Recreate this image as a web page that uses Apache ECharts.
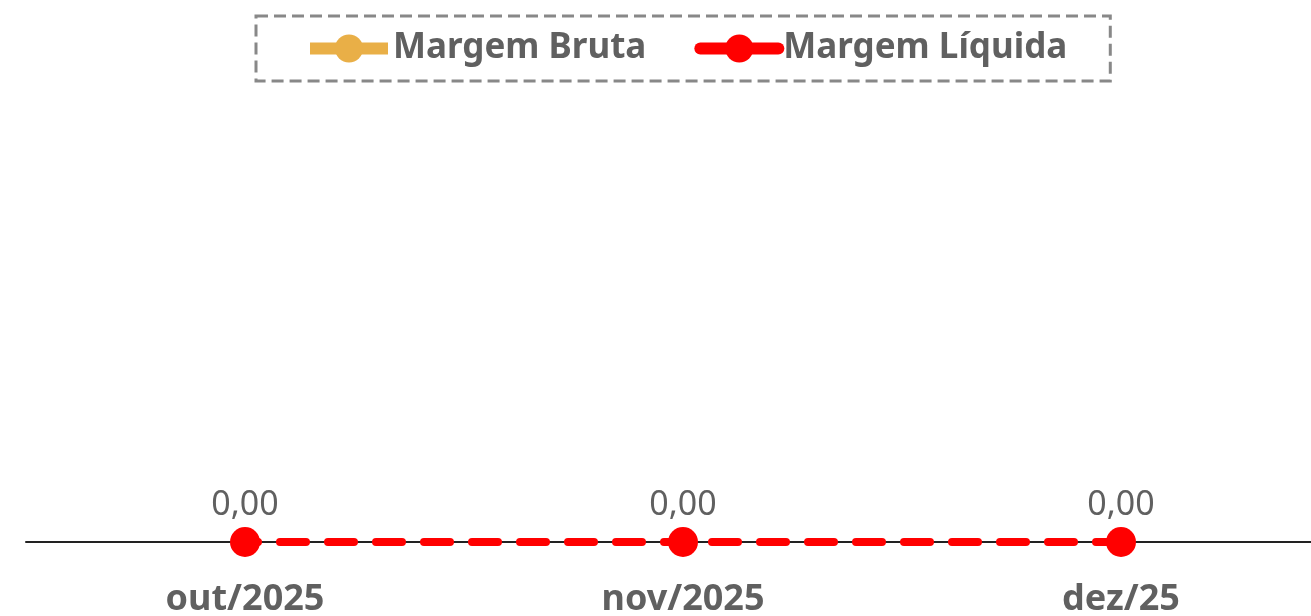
<!DOCTYPE html>
<html>
<head>
<meta charset="utf-8">
<script src="https://cdn.jsdelivr.net/npm/echarts@6/dist/echarts.min.js"></script>
<style>
  html, body { margin: 0; padding: 0; background: #fff; overflow: hidden; }
  #chart { width: 1340px; height: 616px; }
</style>
</head>
<body>
<div id="chart"></div>
<script>
var myChart = echarts.init(document.getElementById('chart'));

// data
var months = ['out/2025', 'nov/2025', 'dez/25'];
var margemBruta = [null, null, null];
var margemLiquida = [0, 0, 0];

var fontFam = '"Noto Sans", "Open Sans", sans-serif';

var option = {
    backgroundColor: '#fff',
    animation: false,
    legend: {
        top: 16,
        left: 256,
        padding: [15, 43, 15, 48],
        borderType: 'dashed',
        borderWidth: 3,
        borderColor: '#888',
        itemWidth: 78,
        itemHeight: 35,
        itemGap: 48,
        lineStyle: { type: 'solid', width: 12 },
        textStyle: { fontFamily: fontFam, fontSize: 35, fontWeight: 'bold', color: '#606060' },
        data: ['Margem Bruta', 'Margem Líquida']
    },
    // plot runs a bit past the right edge of the window, like the original
    grid: { left: 26, right: 0, top: 120, bottom: 74, outerBoundsMode: 'none' },
    xAxis: {
        type: 'category',
        data: months,
        axisLine: { lineStyle: { color: '#222', width: 2 } },
        axisTick: { show: false },
        axisLabel: { margin: 40, fontFamily: fontFam, fontSize: 36, fontWeight: 'bold', color: '#606060' }
    },
    yAxis: { type: 'value', min: 0, max: 1, show: false },
    series: [{
        name: 'Margem Bruta',
        type: 'line',
        data: margemBruta,
        color: '#E9AF47',
        symbol: 'circle',
        symbolSize: 30,
        lineStyle: { width: 8, color: '#E9AF47' }
    }, {
        name: 'Margem Líquida',
        type: 'line',
        data: margemLiquida,
        color: '#FF0000',
        symbol: 'circle',
        symbolSize: 30,
        lineStyle: { width: 8, color: '#FF0000', type: [26, 22], dashOffset: 13, cap: 'round' },
        label: {
            show: true,
            position: 'top',
            distance: 5,
            fontFamily: fontFam,
            fontSize: 34,
            color: '#606060',
            formatter: function (p) { return p.value.toFixed(2).replace('.', ','); }
        }
    }]
};

myChart.setOption(option);
</script>
</body>
</html>
